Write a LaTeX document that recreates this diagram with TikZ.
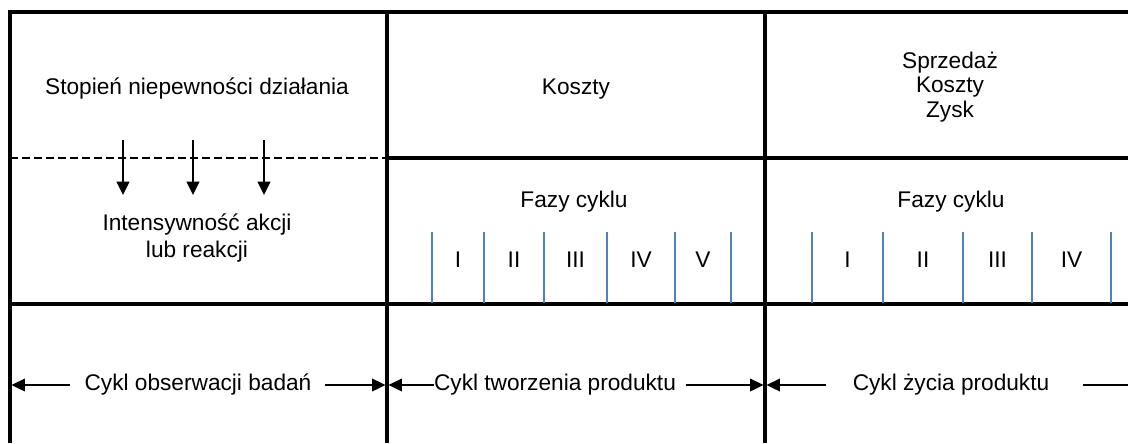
\documentclass[tikz,border=0pt]{standalone}
\usepackage{fontspec}
\setmainfont{Liberation Sans}
\usetikzlibrary{arrows.meta}
\usetikzlibrary{positioning}
\usetikzlibrary{calc}
\definecolor{phaseblue}{RGB}{79,129,189}

\begin{document}
\begin{tikzpicture}[x=0.75pt,y=-0.75pt,font=\fontsize{17}{20}\selectfont]
		\tikzstyle{frame}=[line width=2.5pt]
		\tikzstyle{phase}=[draw=phaseblue,line width=1.4pt]
		\tikzstyle{txt}=[align=center,inner sep=0pt]
		\tikzstyle{flow}=[-{Triangle[length=10pt,width=9.5pt]},line width=1.3pt]
		
		\useasboundingbox (0,0) rectangle (1128,443);
		
		% table
		\draw[frame] (10,443) -- (10,12) -- (1128,12);
		\draw[frame] (387,12) -- (387,443);
		\draw[frame] (765,12) -- (765,443);
		\draw[frame] (387,158) -- (1128,158);
		\draw[frame] (10,304) -- (1128,304);
		\draw[line width=1.3pt,dash pattern=on 6pt off 3pt] (10,158) -- (387,158);
		
		% top row
		\node[txt] (niepewnosc) at (197,89)  {Stopień niepewności działania};
		\node[txt] (koszty)     at (576,89)  {Koszty};
		\node[txt,font=\fontsize{17}{18.4}\selectfont] (wyniki) at (950,87) {Sprzedaż\\Koszty\\Zysk};
		
		% middle row
		\node[txt] (intensywnosc) at (197,238) {Intensywność akcji\\lub reakcji};
		\node[txt] (fazy1) at (574,202) {Fazy cyklu};
		\node[txt] (fazy2) at (951,202) {Fazy cyklu};
		
		\foreach \x [count=\i] in {123,193,264}{
			\coordinate (s\i) at (\x,140);
			\coordinate (t\i) at (\x,195);
			\draw[flow] (s\i) -- (t\i);
		}
		
		% phases of the creation cycle
		\foreach \a/\b/\r in {432/484/I,484/544/II,544/607/III,607/675/IV,675/731/V}{
			\draw[phase] (\a,232) -- (\a,303);
			\node[txt] (p1\r) at ({(\a+\b)/2},260) {\r};
		}
		\draw[phase] (731,232) -- (731,303);
		
		% phases of the life cycle
		\foreach \a/\b/\r in {812/883/I,883/963/II,963/1032/III,1032/1111/IV}{
			\draw[phase] (\a,232) -- (\a,303);
			\node[txt] (p2\r) at ({(\a+\b)/2},260) {\r};
		}
		\draw[phase] (1111,232) -- (1111,303);
		
		% bottom row
		\node[txt] (obserwacje) at (198,385) {Cykl obserwacji badań};
		\node[txt] (tworzenie)  at (555,385) {Cykl tworzenia produktu};
		\node[txt] (zycie)      at (951,385) {Cykl życia produktu};
		
		\coordinate (b0) at (10,385);
		\coordinate (b1) at (387,385);
		\coordinate (b2) at (765,385);
		\coordinate (b3) at (1128,385);
		
		\draw[flow,shorten <=11pt,shorten >=1.2pt] (obserwacje.west) -- (b0);
		\draw[flow,shorten <=10pt,shorten >=1.2pt] (obserwacje.east) -- (b1);
		\draw[flow,shorten >=1.2pt] (tworzenie.west) -- (b1);
		\draw[flow,shorten <=7pt,shorten >=1.2pt] (tworzenie.east) -- (b2);
		\draw[flow,shorten <=20pt,shorten >=1.2pt] (zycie.west) -- (b2);
		\draw[line width=1.3pt,shorten <=25pt] (zycie.east) -- (b3);
		
		;
		\end{tikzpicture}
\end{document}
